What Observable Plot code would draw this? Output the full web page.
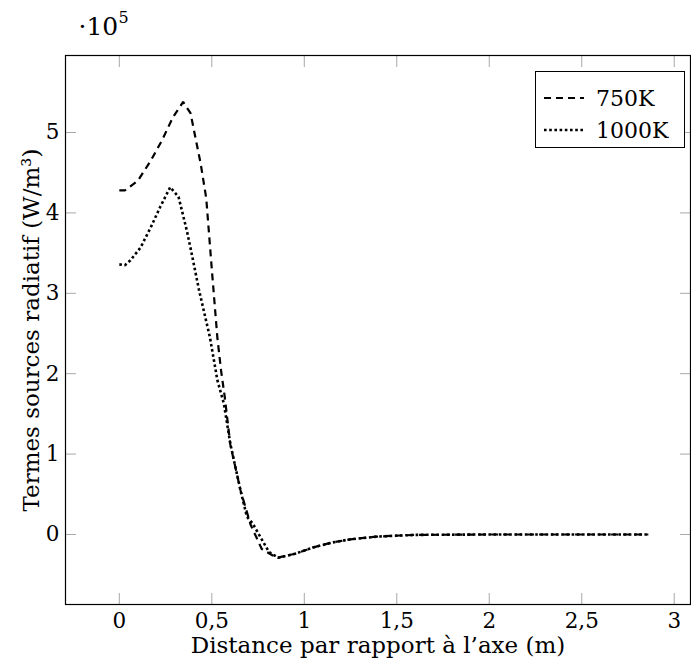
<!DOCTYPE html>
<html><head><meta charset="utf-8">
<script src="https://cdn.jsdelivr.net/npm/d3@7"></script>
<script src="https://cdn.jsdelivr.net/npm/@observablehq/plot@0.6"></script>
<style>
body{margin:0;background:#fff;}
#wrap{position:relative;width:691px;height:663px;font-family:"DejaVu Serif",serif;}
#legend{position:absolute;left:535px;top:71px;width:150px;height:77px;border:1px solid #000;box-sizing:border-box;background:#fff;font-size:22px;}
.row{position:absolute;left:8px;height:30px;display:flex;align-items:center;}
.row svg{margin-right:12px;}
</style></head><body><div id="wrap"></div>
<script>
const seriesNames = ["750K", "1000K"];
const x750 = [0, 0.03, 0.1, 0.17, 0.23, 0.29, 0.345, 0.385, 0.44, 0.47, 0.5, 0.53, 0.55, 0.57, 0.6, 0.655, 0.71, 0.77, 0.85, 0.95, 1.05, 1.15, 1.25, 1.4, 1.6, 2.0, 2.5, 2.86];
const y750 = [4.28, 4.28, 4.40, 4.65, 4.90, 5.19, 5.38, 5.24, 4.61, 4.18, 3.3, 2.45, 2.04, 1.71, 1.12, 0.55, 0.12, -0.18, -0.29, -0.24, -0.16, -0.1, -0.06, -0.025, -0.005, 0, 0, 0];
const x1000 = [0, 0.03, 0.06, 0.115, 0.17, 0.22, 0.275, 0.32, 0.365, 0.395, 0.43, 0.49, 0.53, 0.565, 0.6, 0.655, 0.69, 0.72, 0.75, 0.81, 0.86, 0.95, 1.05, 1.15, 1.25, 1.4, 1.6, 2.0, 2.5, 2.86];
const y1000 = [3.36, 3.35, 3.41, 3.57, 3.82, 4.07, 4.32, 4.20, 3.78, 3.45, 3.05, 2.45, 1.92, 1.63, 1.13, 0.55, 0.22, 0.14, 0.02, -0.22, -0.29, -0.24, -0.16, -0.1, -0.06, -0.025, -0.005, 0, 0, 0];
const xTicks = [0, 0.5, 1, 1.5, 2, 2.5, 3];
const xTickLabels = ["0", "0,5", "1", "1,5", "2", "2,5", "3"];
const yTicks = [0, 1, 2, 3, 4, 5];
const yTickLabels = ["0", "1", "2", "3", "4", "5"];
const xLabel = "Distance par rapport à l’axe (m)";
const yLabel = "Termes sources radiatif (W/m³)";

const d750 = x750.map((x, i) => ({x, y: y750[i]}));
const d1000 = x1000.map((x, i) => ({x, y: y1000[i]}));
const tickColor = "#a8a8a8";

const plot = Plot.plot({
  width: 691, height: 663,
  marginLeft: 65, marginRight: 1, marginTop: 55, marginBottom: 59,
  style: {fontFamily: "DejaVu Serif, serif", fontSize: "21.5px", background: "white", color: "black"},
  x: {domain: [-0.291, 3.088]},
  y: {domain: [-0.871, 5.958]},
  marks: [
    Plot.axisX(xTicks, {anchor: "bottom", tickSize: -11, stroke: tickColor, tickFormat: () => "", label: null}),
    Plot.axisX(xTicks, {anchor: "top", tickSize: -11, stroke: tickColor, tickFormat: () => "", label: null}),
    Plot.axisY(yTicks, {anchor: "left", tickSize: -11, stroke: tickColor, tickFormat: () => "", label: null}),
    Plot.axisY(yTicks, {anchor: "right", tickSize: -11, stroke: tickColor, tickFormat: () => "", label: null}),
    Plot.axisX(xTicks, {anchor: "bottom", tickSize: 0, tickPadding: 8, tickFormat: (d, i) => xTickLabels[i], label: null, fill: "black", fontSize: 21.5}),
    Plot.axisY(yTicks, {anchor: "left", tickSize: 0, tickPadding: 6, tickFormat: (d, i) => yTickLabels[i], label: null, fill: "black", fontSize: 21.5}),
    Plot.line(d750, {x: "x", y: "y", stroke: "black", strokeWidth: 2.2, strokeDasharray: "7,5", strokeLinecap: "butt", strokeLinejoin: "miter"}),
    Plot.line(d1000, {x: "x", y: "y", stroke: "black", strokeWidth: 2.6, strokeDasharray: "2.6,2.6", strokeLinecap: "butt", strokeLinejoin: "miter"}),
    Plot.frame({stroke: "black", strokeWidth: 1.2}),
    Plot.text([xLabel], {text: d => d, frameAnchor: "bottom", dy: 41, textAnchor: "middle", lineAnchor: "middle", fontSize: 23, fill: "black"}),
    Plot.text([yLabel], {text: d => d, frameAnchor: "left", dx: -34, rotate: -90, textAnchor: "middle", lineAnchor: "middle", fontSize: 23, fill: "black"}),
    Plot.text(["·10"], {text: d => d, frameAnchor: "top-left", dx: 13, dy: -29, textAnchor: "start", lineAnchor: "middle", fontSize: 25, fill: "black"}),
    Plot.text(["5"], {text: d => d, frameAnchor: "top-left", dx: 53, dy: -38, textAnchor: "start", lineAnchor: "middle", fontSize: 16, fill: "black"})
  ]
});
const wrap = document.getElementById("wrap");
wrap.appendChild(plot);

const legend = document.createElement("div");
legend.id = "legend";
const styles = [{dash: "7,5", w: 2.2}, {dash: "2.6,2.6", w: 2.6}];
seriesNames.forEach((name, i) => {
  const row = document.createElement("div");
  row.className = "row";
  row.style.top = (11 + i * 32) + "px";
  row.innerHTML = `<svg width="40" height="10"><line x1="0" x2="40" y1="5" y2="5" stroke="black" stroke-width="${styles[i].w}" stroke-dasharray="${styles[i].dash}"/></svg><span>${name}</span>`;
  legend.appendChild(row);
});
wrap.appendChild(legend);
</script>
</body></html>
